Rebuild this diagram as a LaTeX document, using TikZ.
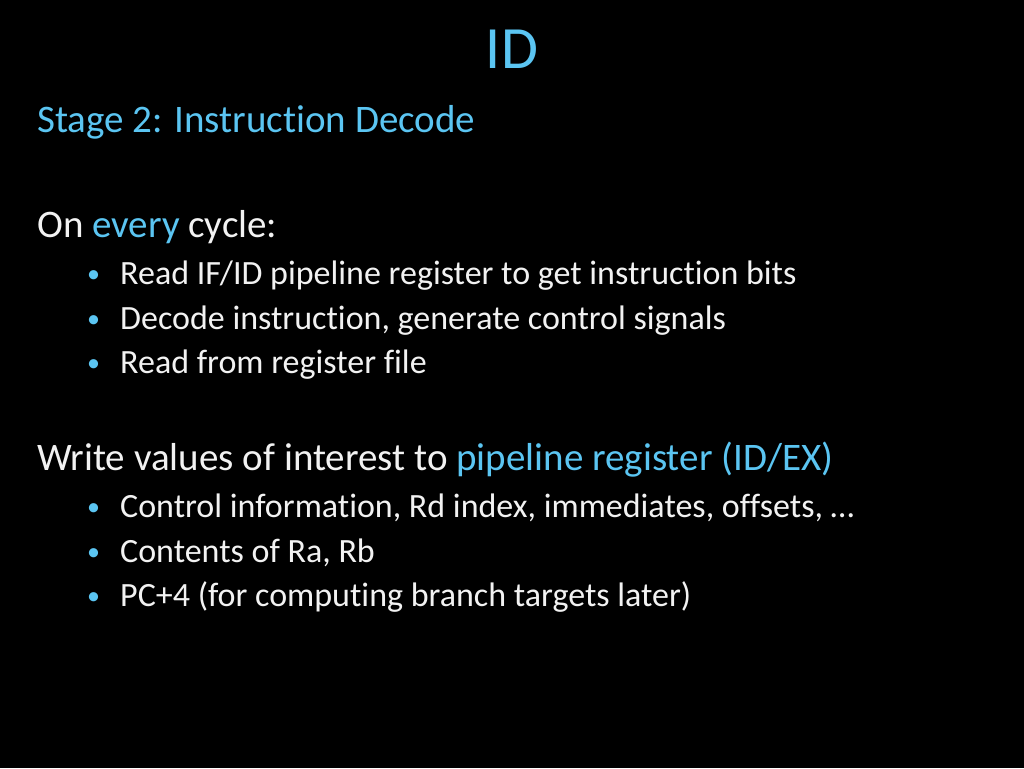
\documentclass[tikz,border=0pt]{standalone}
\usepackage{fontspec}
\setmainfont[Ligatures=NoCommon]{Carlito}
\definecolor{hl}{HTML}{5BC5F2}
\definecolor{tx}{HTML}{F2F2F2}
\begin{document}
\begin{tikzpicture}[x=1pt,y=-1pt,
  t/.style={anchor=base west,inner sep=0pt,text=tx},
  big/.style={t,font=\fontsize{39}{44}\selectfont},
  bl/.style={t,font=\fontsize{34}{40}\selectfont},
  dot/.style={t,text=hl,font=\fontsize{26}{30}\selectfont}]
\fill[black] (0,0) rectangle (1024,768);
\useasboundingbox (0,0) rectangle (1024,768);
\node[anchor=base,inner sep=0pt,text=hl,font=\fontsize{60}{66}\selectfont] (title) at (512,68) {ID};
\node[big,text=hl] (sub) at (37,132) {Stage 2: Instruction Decode};
\node[big] (on) at (37,237) {On \textcolor{hl}{every} cycle:};
\foreach \y/\s [count=\i] in {284/{Read IF/ID pipeline register to get instruction bits},329/{Decode instruction, generate control signals},373/{Read from register file}}{
  \node[dot] (ba\i) at (87,\y-2) {•};
  \node[bl] (a\i) at (120,\y) {\s};
}
\node[big] (wr) at (37,470) {Write values of interest to \textcolor{hl}{pipeline register (ID/EX)}};
\foreach \y/\s [count=\i] in {517/{Control information, Rd index, immediates, offsets, …},562/{Contents of Ra, Rb},606/{PC+4 (for computing branch targets later)}}{
  \node[dot] (bb\i) at (87,\y-2) {•};
  \node[bl] (b\i) at (120,\y) {\s};
}
\end{tikzpicture}
\end{document}
